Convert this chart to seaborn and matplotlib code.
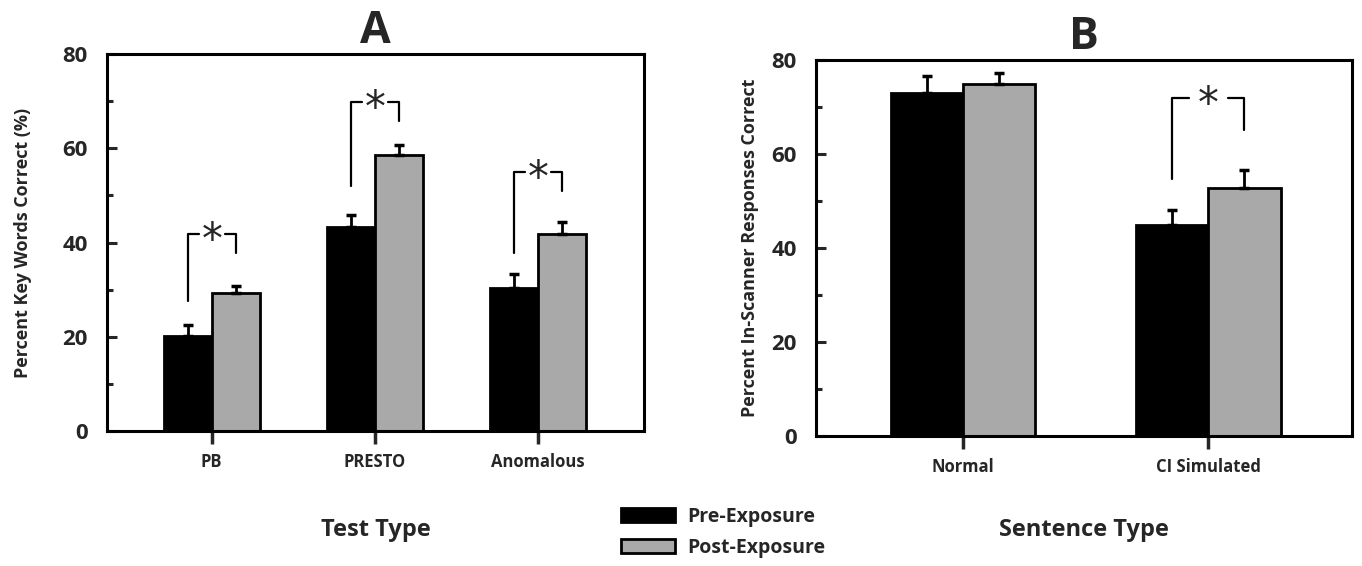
import matplotlib
matplotlib.use("Agg")
import matplotlib.pyplot as plt
from matplotlib.patches import Patch
from matplotlib.ticker import MultipleLocator
from matplotlib.transforms import offset_copy
import seaborn as sns
import pandas as pd

# --- data ---
tests = ["PB", "PRESTO", "Anomalous"]
pre_a = [20.2, 43.2, 30.3]
post_a = [29.3, 58.5, 41.8]
err_pre_a = [2.2, 2.6, 3.1]
err_post_a = [1.4, 2.3, 2.5]
# significance brackets: (category, left foot, top, right foot)
sig_a = [("PB", 27.6, 41.8, 37.7), ("PRESTO", 52.1, 69.9, 65.8),
         ("Anomalous", 37.8, 54.9, 51.0)]

sentences = ["Normal", "CI Simulated"]
pre_b = [72.9, 44.9]
post_b = [74.8, 52.8]
err_pre_b = [3.6, 3.1]
err_post_b = [2.5, 3.8]
sig_b = [("CI Simulated", 54.7, 72.0, 65.0)]

phases = ["Pre-Exposure", "Post-Exposure"]
colors = ["black", "#a9a9a9"]

sns.set_style("ticks")
plt.rcParams["font.family"] = ["Open Sans", "DejaVu Sans"]
plt.rcParams["font.weight"] = "bold"


def make_df(cats, pre, post, err_pre, err_post):
    rows = []
    for c, v, e in zip(cats, pre, err_pre):
        rows.append({"cat": c, "phase": phases[0], "val": v, "err": e})
    for c, v, e in zip(cats, post, err_post):
        rows.append({"cat": c, "phase": phases[1], "val": v, "err": e})
    return pd.DataFrame(rows)


def draw_panel(ax, df, cats, sig, xlim, title, xlabel, ylabel,
               ylabelpad, xlabelpad):
    sns.barplot(data=df, x="cat", y="val", hue="phase", order=cats,
                hue_order=phases, palette=colors, width=0.59,
                edgecolor="black", linewidth=2, errorbar=None,
                legend=False, ax=ax)

    # one-sided error bars on top of each bar
    centers = {}
    for phase, cont in zip(phases, ax.containers):
        sub = df[df.phase == phase].set_index("cat").loc[cats]
        xs = [b.get_x() + b.get_width() / 2 for b in cont]
        hs = [b.get_height() for b in cont]
        ax.errorbar(xs, hs, yerr=[[0] * len(xs), sub["err"].tolist()],
                    fmt="none", ecolor="black", elinewidth=2,
                    capsize=3.5, capthick=2.5, zorder=1)
        for c, x in zip(cats, xs):
            centers[(c, phase)] = x
    bw = ax.containers[0][0].get_width()

    # significance brackets with a star in the gap
    star_tr = offset_copy(ax.transData, fig=ax.figure, x=0, y=-5, units="points")
    for c, lo_l, top, lo_r in sig:
        xl = centers[(c, phases[0])]
        xr = centers[(c, phases[1])]
        mid = (xl + xr) / 2
        gap = 0.27 * bw
        ax.plot([xl, xl, mid - gap], [lo_l, top, top], color="black", lw=1.6)
        ax.plot([mid + gap, xr, xr], [top, top, lo_r], color="black", lw=1.6)
        ax.text(mid, top, "*", ha="center", va="center", fontsize=30,
                fontweight="normal", family="DejaVu Sans", transform=star_tr)

    ax.set_xlim(*xlim)
    ax.set_ylim(0, 80)
    ax.yaxis.set_major_locator(MultipleLocator(20))
    ax.yaxis.set_minor_locator(MultipleLocator(10))
    ax.tick_params(axis="y", which="major", direction="in", length=7,
                   width=2.2, labelsize=16, pad=14)
    ax.tick_params(axis="y", which="minor", direction="in", length=4,
                   width=2.2)
    ax.tick_params(axis="x", direction="out", length=9, width=2.5,
                   labelsize=12, pad=7)
    for lab in ax.get_xticklabels() + ax.get_yticklabels():
        lab.set_fontweight("bold")
    for sp in ax.spines.values():
        sp.set_visible(True)
        sp.set_linewidth(2.2)
        sp.set_color("black")
    ax.set_title(title, fontsize=32, fontweight="bold", pad=8)
    ax.set_xlabel(xlabel, fontsize=17, fontweight="bold", labelpad=xlabelpad)
    ax.set_ylabel(ylabel, fontsize=13, fontweight="bold", labelpad=ylabelpad)


fig = plt.figure(figsize=(13.62, 5.66), dpi=100)
ax_a = fig.add_axes([0.0786, 0.2385, 0.3943, 0.666])
ax_b = fig.add_axes([0.5991, 0.2297, 0.3935, 0.6643])

draw_panel(ax_a, make_df(tests, pre_a, post_a, err_pre_a, err_post_a),
           tests, sig_a, (-0.642, 2.652), "A", "Test Type",
           "Percent Key Words Correct (%)", 22, 34)
draw_panel(ax_b, make_df(sentences, pre_b, post_b, err_pre_b, err_post_b),
           sentences, sig_b, (-0.599, 1.586), "B", "Sentence Type",
           "Percent In-Scanner Responses Correct", 9, 30)

handles = [Patch(facecolor=c, edgecolor="black", linewidth=2) for c in colors]
fig.legend(handles, phases, loc="upper left", bbox_to_anchor=(0.443, 0.135),
           frameon=False, handlelength=2.8, handleheight=0.7,
           labelspacing=0.55, handletextpad=0.6,
           prop={"weight": "bold", "size": 14})

fig.savefig("out.png", dpi=100, facecolor="white")
